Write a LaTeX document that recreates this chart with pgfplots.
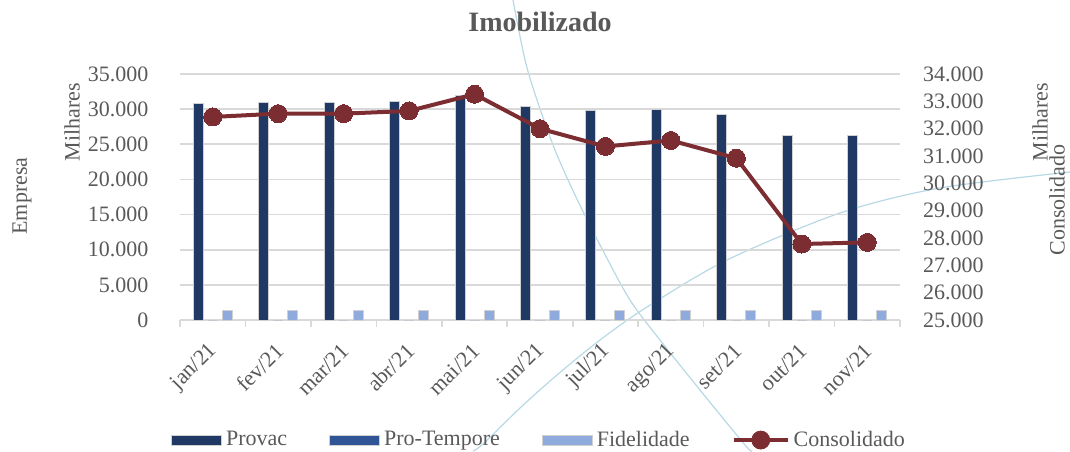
\documentclass[border=0pt]{standalone}
\usepackage{fontspec}
\setmainfont{Liberation Serif}
\usepackage{pgfplots}
\pgfplotsset{compat=1.18}
\definecolor{provac}{HTML}{1F3864}
\definecolor{protempore}{HTML}{2F5597}
\definecolor{fidelidade}{HTML}{8FAADC}
\definecolor{consol}{HTML}{7B2D32}
\definecolor{txtgray}{HTML}{595959}
\definecolor{gridgray}{HTML}{D9D9D9}
\definecolor{barline}{HTML}{D0D0D0}
\definecolor{arcblue}{HTML}{B7D9E6}
\newcommand\lfont{\rmfamily\fontsize{11}{13}\selectfont}
\begin{document}
\begin{tikzpicture}[x=1pt,y=1pt]
\useasboundingbox (-90,-65.5) rectangle (445,160);
% decorative background arcs (px -> pt: X=(x-180)/2, Y=(320-y)/2)
\draw[arcblue, line width=0.6pt] plot[smooth] coordinates {
 (166.5,160) (172.5,130) (178.5,110) (187.5,85) (197.5,62.5) (210,37.5)
 (225,10) (240,-10) (260,-35) (282.5,-62.5) (286,-65.5)};
\draw[arcblue, line width=0.6pt] plot[smooth] coordinates {
 (146.5,-65.5) (151.5,-62) (170,-44) (188.5,-27.5) (210,-10) (233.5,6.5)
 (273.5,30) (330,53.5) (380,66) (445,74)};
\begin{axis}[
  at={(0,0)}, anchor=south west,
  scale only axis, width=360pt, height=123pt,
  xmin=-0.5, xmax=10.5, ymin=0, ymax=35000,
  axis x line*=bottom, axis y line*=left,
  y axis line style={draw=none},
  x axis line style={draw=gridgray, line width=0.8pt},
  xtick={0,...,10},
  xticklabels={jan/21,fev/21,mar/21,abr/21,mai/21,jun/21,jul/21,ago/21,set/21,out/21,nov/21},
  major x tick style={draw=none},
  minor xtick={-0.5,0.5,...,10.5},
  minor x tick style={draw=gridgray, line width=0.8pt},
  minor tick length=3.5pt, tick align=outside,
  ytick={0,5000,...,35000},
  scaled y ticks=false,
  ytick style={draw=none},
  ymajorgrids, grid style={draw=gridgray, line width=0.8pt},
  tick label style={font=\lfont, text=txtgray},
  xticklabel style={rotate=45, anchor=east, xshift=-2.8pt, yshift=-7.3pt},
  yticklabel style={xshift=-8pt},
  /pgf/number format/.cd, 1000 sep={.}, assume math mode=true,
  /pgfplots/.cd,
  ybar, bar width=5pt,
  legend style={at={(0.5,-0.488)}, anchor=center, draw=none, fill=none,
    legend columns=4, font=\lfont, text=txtgray,
    /tikz/every even column/.append style={column sep=19pt},
    legend cell align=left},
]
\addplot[fill=provac, draw=barline, line width=0.5pt, bar shift=-7.25pt, forget plot] coordinates {
 (0,30800) (1,31000) (2,31000) (3,31100) (4,31900) (5,30400)
 (6,29800) (7,30000) (8,29300) (9,26200) (10,26300)};
\addplot[fill=protempore, draw=none, bar shift=0pt, forget plot] coordinates {
 (0,0) (1,0) (2,0) (3,0) (4,0) (5,0) (6,0) (7,0) (8,0) (9,0) (10,0)};
\addplot[fill=fidelidade, draw=barline, line width=0.5pt, bar shift=7.25pt, forget plot] coordinates {
 (0,1400) (1,1400) (2,1400) (3,1400) (4,1400) (5,1400)
 (6,1400) (7,1400) (8,1400) (9,1400) (10,1400)};
\addlegendimage{legend image code/.code={
   \draw[fill=provac, draw=barline, line width=0.5pt] (0pt,-2.5pt) rectangle (25pt,2.5pt);}}
\addlegendentry{Provac}
\addlegendimage{legend image code/.code={
   \draw[fill=protempore, draw=barline, line width=0.5pt] (0pt,-2.5pt) rectangle (25pt,2.5pt);}}
\addlegendentry{Pro-Tempore}
\addlegendimage{legend image code/.code={
   \draw[fill=fidelidade, draw=barline, line width=0.5pt] (0pt,-2.5pt) rectangle (25pt,2.5pt);}}
\addlegendentry{Fidelidade}
\addlegendimage{legend image code/.code={
   \draw[consol, line width=2pt] (0pt,0pt) -- (27pt,0pt);
   \fill[consol] (13.5pt,0pt) circle (4.5pt);}}
\addlegendentry{Consolidado}
\end{axis}
\begin{axis}[
  at={(0,0)}, anchor=south west,
  scale only axis, width=360pt, height=123pt,
  xmin=-0.5, xmax=10.5, ymin=25000, ymax=34000,
  axis x line=none, axis y line*=right,
  y axis line style={draw=none},
  ytick={25000,26000,...,34000},
  scaled y ticks=false,
  ytick style={draw=none},
  tick label style={font=\lfont, text=txtgray},
  yticklabel style={xshift=8pt},
  /pgf/number format/.cd, 1000 sep={.}, assume math mode=true,
]
\addplot[consol, line width=2pt, mark=*, mark size=4.5pt, mark options={fill=consol, draw=consol, line width=0pt}] coordinates {
 (0,32430) (1,32550) (2,32550) (3,32650) (4,33260) (5,32000)
 (6,31350) (7,31570) (8,30920) (9,27780) (10,27840)};
\end{axis}
\node[rotate=90, text=txtgray, font=\lfont] at (-79,62) {Empresa};
\node[rotate=90, text=txtgray, font=\lfont] at (-54,99) {Milhares};
\node[rotate=90, text=txtgray, font=\lfont] at (430,99) {Milhares};
\node[rotate=90, text=txtgray, font=\lfont] at (438.5,60) {Consolidado};
\node[text=txtgray, font=\rmfamily\bfseries\fontsize{14}{16}\selectfont] at (180,149) {Imobilizado};
\end{tikzpicture}
\end{document}
